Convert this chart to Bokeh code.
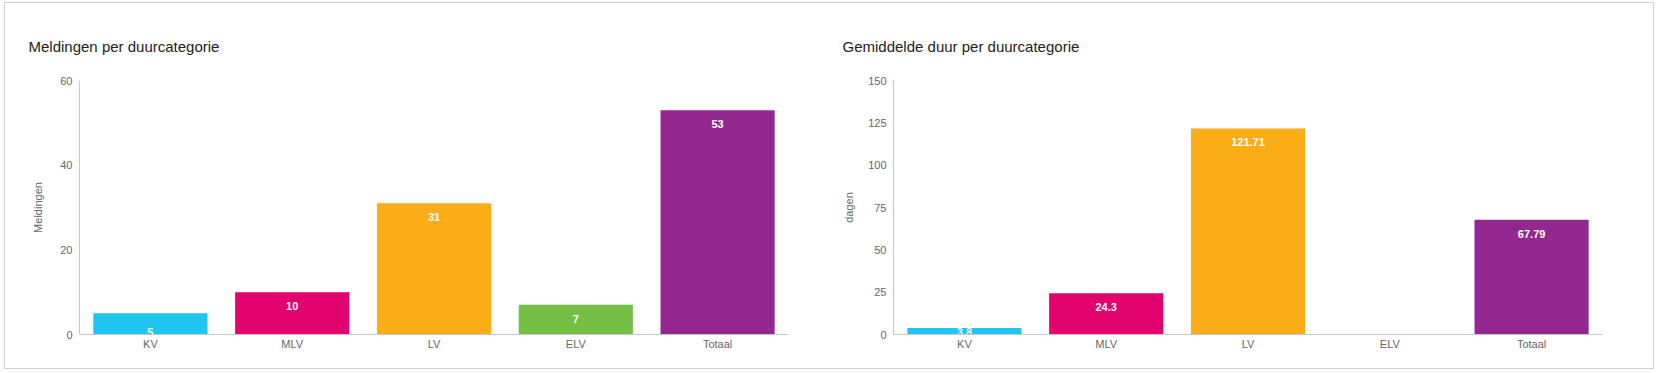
from bokeh.plotting import figure
from bokeh.layouts import row
from bokeh.models import ColumnDataSource, FactorRange, Range1d
from bokeh.embed import file_html
from bokeh.resources import INLINE
from bokeh.core.properties import value

categories = ["KV", "MLV", "LV", "ELV", "Totaal"]
colors = ["#20c5f2", "#e2036f", "#fbad18", "#74bf44", "#93278f"]

meldingen = [5, 10, 31, 7, 53]
meldingen_labels = ["5", "10", "31", "7", "53"]
meldingen_ticks = [0, 20, 40, 60]

duur = [3.8, 24.3, 121.71, 0, 67.79]
duur_labels = ["3.8", "24.3", "121.71", "", "67.79"]
duur_ticks = [0, 25, 50, 75, 100, 125, 150]

FONT = "Liberation Sans"
FRAME_H = 254
FRAME_W = 709


def make(title, vals, labels, ticks, ylabel, width, min_right, ax_standoff):
    ymax = ticks[-1]
    ppu = FRAME_H / ymax
    yoff = []
    for v in vals:
        h = v * ppu
        yoff.append(14 if h >= 28 else h - 3)
    src = ColumnDataSource(dict(cat=categories, val=vals, label=labels,
                                color=colors, yoff=yoff))
    p = figure(x_range=FactorRange(*categories), y_range=Range1d(0, ymax),
               width=width, height=365,
               min_border_left=74, min_border_right=min_right,
               min_border_top=77, min_border_bottom=34,
               output_backend="svg", toolbar_location=None, title=title)
    p.title.text_font = FONT
    p.title.text_font_size = "15px"
    p.title.text_font_style = "normal"
    p.title.text_color = "#222222"
    p.title.align = "left"
    p.title.offset = -51
    p.title.standoff = 52

    p.vbar(x="cat", top="val", width=0.805, fill_color="color",
           line_color=None, source=src)
    p.text(x="cat", y="val", text="label", y_offset="yoff",
           text_align="center", text_baseline="middle", text_color="white",
           text_font=value(FONT), text_font_style="bold",
           text_font_size="11px", source=src)

    p.xgrid.visible = False
    p.ygrid.visible = False
    p.outline_line_color = None
    p.background_fill_color = "white"
    p.border_fill_color = "white"

    for ax in (p.xaxis[0], p.yaxis[0]):
        ax.axis_line_color = "#c8c8c8"
        ax.major_tick_line_color = None
        ax.minor_tick_line_color = None
        ax.major_tick_out = 0
        ax.major_tick_in = 0
        ax.minor_tick_out = 0
        ax.major_label_text_font = FONT
        ax.major_label_text_font_size = "11px"
        ax.major_label_text_color = "#666666"
    p.xaxis.major_label_standoff = 3
    p.yaxis.ticker = ticks
    p.yaxis.major_label_standoff = 7
    p.yaxis.axis_label = ylabel
    p.yaxis.axis_label_text_font = FONT
    p.yaxis.axis_label_text_font_size = "11px"
    p.yaxis.axis_label_text_font_style = "normal"
    p.yaxis.axis_label_text_color = "#666666"
    p.yaxis.axis_label_standoff = ax_standoff
    return p


p1 = make("Meldingen per duurcategorie", meldingen, meldingen_labels,
          meldingen_ticks, "Meldingen", 814, 31, 13)
p2 = make("Gemiddelde duur per duurcategorie", duur, duur_labels,
          duur_ticks, "dagen", 834, 51, 10)

layout = row(p1, p2, styles={"border": "1px solid #d0d0d0",
                             "margin-left": "4px", "margin-top": "2px"})

open("out.html", "w").write(file_html(layout, INLINE))
